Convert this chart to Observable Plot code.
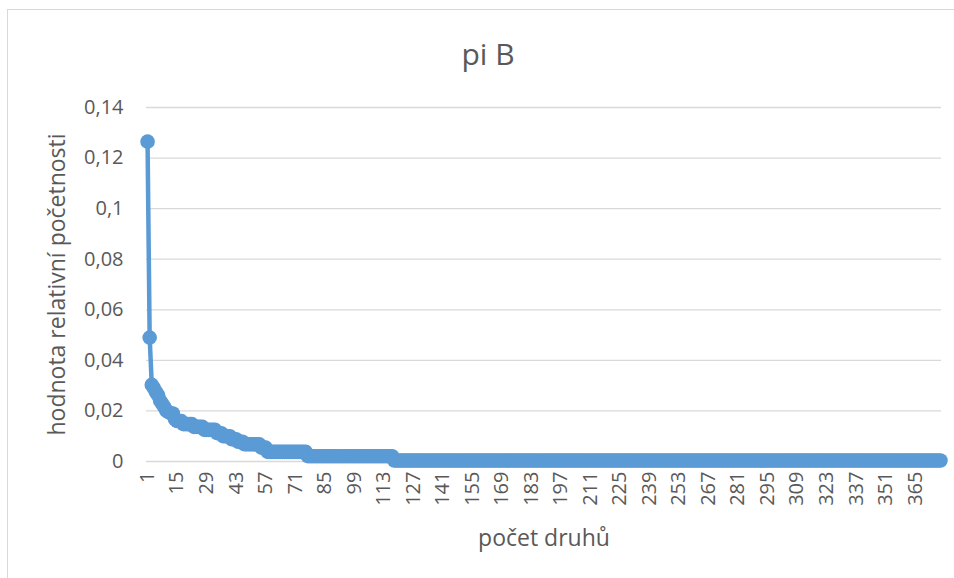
<!DOCTYPE html>
<html>
<head>
<meta charset="utf-8">
<script src="https://cdn.jsdelivr.net/npm/d3@7"></script>
<script src="https://cdn.jsdelivr.net/npm/@observablehq/plot@0.6"></script>
<style>
  html, body { margin: 0; padding: 0; background: #fff; }
  #wrap { position: relative; width: 954px; height: 578px; overflow: hidden; }
  #border { position: absolute; left: 7px; top: 9px; width: 1000px; height: 700px;
            border-left: 1px solid #d9d9d9; border-top: 1px solid #d9d9d9; pointer-events: none; }
  #chart { position: absolute; left: 0; top: 0; }
</style>
</head>
<body>
<div id="wrap"><div id="chart"></div><div id="border"></div></div>
<script>
// Chart text
const chartTitle = "pi B";
const xTitle = "počet druhů";
const yTitle = "hodnota relativní početnosti";

const stepValues  = [0.1265, 0.0490, 0.0303, 0.0290, 0.0275, 0.0262, 0.0240, 0.0228, 0.0215, 0.0200,
                     0.0195, 0.0190, 0.0168, 0.0160, 0.0148, 0.0137, 0.0125, 0.0112, 0.0100, 0.0088,
                     0.0078, 0.0068, 0.0055, 0.0038, 0.0021, 0.0004];
const stepLengths = [1, 1, 1, 1, 1, 1, 1, 1, 1, 1,
                     1, 2, 1, 3, 5, 5, 6, 3, 4, 3,
                     3, 8, 3, 19, 41, 260];

// Tick labels
const xTickLabels = [1, 15, 29, 43, 57, 71, 85, 99, 113, 127, 141, 155, 169, 183, 197, 211, 225,
                     239, 253, 267, 281, 295, 309, 323, 337, 351, 365];
const yTicks = [0, 0.02, 0.04, 0.06, 0.08, 0.1, 0.12, 0.14];

// Expand runs into one value per species rank
const values = stepValues.flatMap((v, i) => Array(stepLengths[i]).fill(v));
const categories = values.map((_, i) => i + 1);
const data = values.map((v, i) => ({rank: categories[i], value: v}));

const fmtY = d => String(+d.toFixed(2)).replace(".", ",");
const blue = "#5b9bd5";
const grey = "#595959";

const chart = Plot.plot({
  width: 954,
  height: 578,
  marginLeft: 146,
  marginRight: 13,
  marginTop: 107,
  marginBottom: 117,
  style: {fontFamily: "'Open Sans', sans-serif", fontSize: "20px", color: grey, background: "transparent"},
  x: {type: "point", padding: 0.5, domain: categories},
  y: {domain: [0, 0.14]},
  marks: [
    Plot.gridY(yTicks, {stroke: "#d9d9d9", strokeOpacity: 1, strokeWidth: 1.3}),
    Plot.axisY({ticks: yTicks, tickSize: 0, tickPadding: 23, tickFormat: fmtY, label: null,
                fontSize: 20, fill: grey}),
    Plot.axisX({ticks: xTickLabels, tickSize: 0, tickPadding: 10, tickRotate: -90, label: null,
                fontSize: 20, fill: grey}),
    Plot.line(data, {x: "rank", y: "value", stroke: blue, strokeWidth: 4.5,
                     strokeLinejoin: "round", strokeLinecap: "round"}),
    Plot.dot(data, {x: "rank", y: "value", r: 7.3, fill: blue, stroke: null}),
    Plot.text([xTitle], {frameAnchor: "bottom", dy: 77, fontSize: 23, fill: grey,
                         textAnchor: "middle", lineAnchor: "middle"}),
    Plot.text([yTitle], {frameAnchor: "left", dx: -89, rotate: -90, fontSize: 23, fill: grey,
                         textAnchor: "middle", lineAnchor: "middle"}),
    Plot.text([chartTitle], {frameAnchor: "top", dx: -56, dy: -52, fontSize: 30, fill: grey,
                             textAnchor: "middle", lineAnchor: "middle"})
  ]
});
document.getElementById("chart").appendChild(chart);
</script>
</body>
</html>
